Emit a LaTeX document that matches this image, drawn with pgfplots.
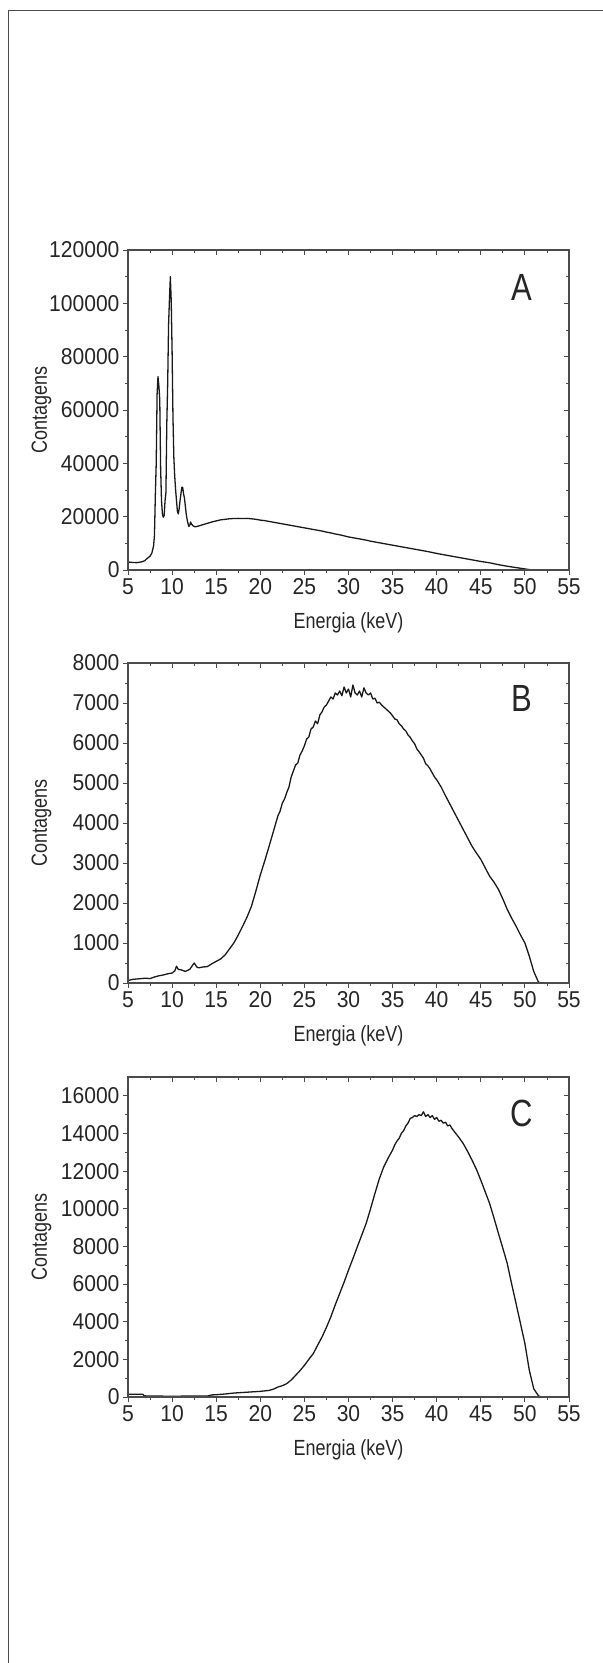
\documentclass[border=0pt]{standalone}
\usepackage{pgfplots}
\pgfplotsset{compat=1.18}
\usepackage{fontspec}
\setmainfont{Liberation Sans}[FakeStretch=0.82]
\newfontfamily\tickfont{Liberation Sans}[FakeStretch=0.92]
\definecolor{axisgray}{RGB}{75,75,75}
\definecolor{curve}{RGB}{25,25,25}

\pgfplotstableread{
E V
5.0 3000
5.3 2900
5.6 2800
6.0 2750
6.3 2900
6.6 3100
6.9 3500
7.2 4400
7.5 5200
7.7 6300
7.9 9000
8.0 13000
8.1 28000
8.2 40000
8.3 66000
8.4 72500
8.5 69000
8.6 64000
8.7 38000
8.8 26000
8.9 21000
9.0 19800
9.1 20500
9.2 26000
9.3 29000
9.4 55000
9.5 70000
9.6 92000
9.7 101500
9.8 110000
9.9 101000
10.0 82000
10.1 57000
10.2 42000
10.3 35000
10.4 30000
10.5 26000
10.6 22000
10.7 21000
10.8 23000
10.9 26000
11.0 28500
11.1 31000
11.2 31000
11.3 28500
11.4 27000
11.5 24000
11.6 21000
11.7 19000
11.8 17500
11.9 16300
12.0 16800
12.1 18000
12.2 17200
12.4 16500
12.6 16200
12.8 16300
13.0 16500
13.5 17000
14.0 17500
14.5 18000
15.0 18400
15.5 18800
16.0 19000
16.5 19200
17.0 19300
17.5 19350
18.0 19300
18.5 19350
19.0 19200
19.5 19000
20.0 18700
20.5 18500
21.0 18200
21.5 17900
22.0 17600
22.5 17300
23.0 17000
23.5 16700
24.0 16400
24.5 16100
25.0 15800
25.5 15500
26.0 15200
26.5 14900
27.0 14600
27.5 14200
28.0 13900
28.5 13500
29.0 13200
29.5 12800
30.0 12400
30.5 12100
31.0 11800
31.5 11500
32.0 11200
32.5 10800
33.0 10500
33.5 10200
34.0 9900
34.5 9600
35.0 9300
35.5 9000
36.0 8700
36.5 8400
37.0 8100
37.5 7800
38.0 7500
38.5 7200
39.0 6900
39.5 6550
40.0 6200
40.5 5900
41.0 5600
41.5 5300
42.0 5000
42.5 4700
43.0 4400
43.5 4100
44.0 3800
44.5 3500
45.0 3200
45.5 2950
46.0 2700
46.5 2350
47.0 2000
47.5 1700
48.0 1400
48.5 1150
49.0 900
49.5 650
50.0 400
50.4 200
50.8 0
}\dataA

\pgfplotstableread{
E V
5.0 60
5.5 90
6.0 100
6.5 110
7.0 120
7.5 110
8.0 150
8.5 180
9.0 200
9.5 230
10.0 250
10.3 300
10.5 420
10.7 340
11.0 330
11.5 290
12.0 340
12.5 500
12.8 400
13.0 380
13.5 400
14.0 410
14.5 480
15.0 540
15.5 600
16.0 700
16.5 850
17.0 1000
17.5 1200
18.0 1420
18.5 1650
19.0 1920
19.5 2300
20.0 2700
20.5 3050
21.0 3420
21.5 3800
22.0 4180
22.25 4300
22.5 4500
22.75 4600
23.0 4760
23.25 4900
23.5 5150
23.75 5300
24.0 5450
24.25 5500
24.5 5700
24.75 5800
25.0 5930
25.25 6100
25.5 6150
25.75 6350
26.0 6400
26.25 6550
26.5 6480
26.75 6700
27.0 6780
27.25 6900
27.5 6950
27.75 7050
28.0 7150
28.25 7100
28.5 7250
28.75 7200
29.0 7300
29.25 7180
29.5 7400
29.75 7250
30.0 7350
30.25 7150
30.5 7450
30.75 7250
31.0 7200
31.25 7300
31.5 7150
31.75 7380
32.0 7250
32.25 7200
32.5 7250
32.75 7100
33.0 7120
33.25 7000
33.5 7020
33.75 6950
34.0 6900
34.25 6850
34.5 6800
34.75 6750
35.0 6680
35.25 6600
35.5 6580
35.75 6480
36.0 6430
36.25 6350
36.5 6300
36.75 6200
37.0 6140
37.25 6050
37.5 5980
37.75 5850
38.0 5780
38.25 5700
38.5 5620
38.75 5480
39.0 5430
39.25 5350
39.5 5250
39.75 5150
40.0 5080
40.5 4900
41.0 4680
41.5 4470
42.0 4260
42.5 4050
43.0 3840
43.5 3630
44.0 3420
44.5 3250
45.0 3090
45.5 2880
46.0 2670
46.5 2520
47.0 2340
47.5 2100
48.0 1840
48.5 1620
49.0 1420
49.5 1200
50.0 1000
50.5 670
51.0 290
51.5 40
51.7 0
}\dataB

\pgfplotstableread{
E V
5.0 150
6.0 150
6.7 140
6.8 60
8.0 50
10.0 40
12.0 50
14.0 50
14.5 110
15.0 120
16.0 160
17.0 210
18.0 240
19.0 270
20.0 300
21.0 350
21.5 420
22.0 530
22.5 600
23.0 710
23.5 900
24.0 1150
24.5 1400
25.0 1680
25.5 2000
26.0 2300
26.5 2750
27.0 3190
27.5 3700
28.0 4260
28.5 4900
29.0 5500
29.5 6100
30.0 6740
30.5 7350
31.0 7980
31.5 8600
32.0 9220
32.5 10000
33.0 10820
33.5 11600
34.0 12230
34.5 12700
35.0 13120
35.25 13400
35.5 13600
35.75 13750
36.0 14010
36.25 14150
36.5 14400
36.75 14550
37.0 14800
37.25 14850
37.5 14950
37.75 14900
38.0 15000
38.25 14950
38.5 15150
38.75 14900
39.0 15000
39.25 14850
39.5 14950
39.75 14750
40.0 14850
40.25 14650
40.5 14700
40.75 14550
41.0 14600
41.25 14400
41.5 14450
41.75 14250
42.0 14100
42.5 13800
43.0 13470
43.5 13050
44.0 12590
44.5 12100
45.0 11520
45.5 10900
46.0 10280
46.5 9500
47.0 8690
47.5 7900
48.0 7090
48.5 6000
49.0 4960
49.5 3900
50.0 2840
50.5 1420
51.0 440
51.5 90
51.7 0
}\dataC

\tikzset{
  curvestyle/.style={curve, line width=1.3pt, line join=round},
  tag/.style={font=\fontsize{38}{40}\selectfont, text=black!85},
}
\pgfplotsset{
  panel/.style={
    scale only axis, width=441bp, height=320bp, anchor=south west,
    xmin=5, xmax=55, xtick={5,10,...,55}, minor x tick num=1, minor y tick num=1,
    axis line style={axisgray, line width=1.1pt},
    tick style={axisgray, line width=0.9pt},
    major tick length=5bp, minor tick length=3bp,
    scaled y ticks=false,
    tick label style={font=\tickfont\fontsize{23}{25}\selectfont, text=black!85},
    label style={font=\fontsize{22}{24}\selectfont, text=black!85},
  },
  lower/.style={panel, xtick pos=left, ytick pos=left, tick align=outside,
    xticklabels={5,10,15,20,25,30,35,40,45,50,55},
    xlabel={Energia (keV)}, ylabel={Contagens},
    xlabel style={at={(axis description cs:0.5,-0.165)}, anchor=center},
    ylabel style={at={(axis description cs:-0.196,0.5)}, anchor=center},
  },
  upper/.style={panel, xtick pos=right, ytick pos=right, tick align=inside,
    xticklabels={}, yticklabels={}},
}

\begin{document}
\begin{tikzpicture}
\useasboundingbox (0,0) rectangle (603bp,1663bp);
\draw[axisgray, line width=1.5pt] (8.5bp,0) -- (8.5bp,1652.5bp) -- (603bp,1652.5bp);

% A
\begin{axis}[lower, at={(128bp,1093bp)}, ymin=0, ymax=120000, ytick={0,20000,40000,60000,80000,100000,120000},
  yticklabels={0,20000,40000,60000,80000,100000,120000}]
\addplot[curvestyle] table[x=E,y=V] {\dataA};
\node[tag] at (axis description cs:0.893,0.884) {A};
\end{axis}
\begin{axis}[upper, at={(128bp,1093bp)}, ymin=0, ymax=120000, ytick={0,20000,40000,60000,80000,100000,120000}]
\end{axis}

% B
\begin{axis}[lower, at={(128bp,680bp)}, ymin=0, ymax=8000, ytick={0,1000,2000,3000,4000,5000,6000,7000,8000},
  yticklabels={0,1000,2000,3000,4000,5000,6000,7000,8000}]
\addplot[curvestyle] table[x=E,y=V] {\dataB};
\node[tag] at (axis description cs:0.893,0.889) {B};
\end{axis}
\begin{axis}[upper, at={(128bp,680bp)}, ymin=0, ymax=8000, ytick={0,1000,2000,3000,4000,5000,6000,7000,8000}]
\end{axis}

% C
\begin{axis}[lower, at={(128bp,266bp)}, ymin=0, ymax=17000, ytick={0,2000,4000,6000,8000,10000,12000,14000,16000},
  yticklabels={0,2000,4000,6000,8000,10000,12000,14000,16000}]
\addplot[curvestyle] table[x=E,y=V] {\dataC};
\node[tag] at (axis description cs:0.893,0.887) {C};
\end{axis}
\begin{axis}[upper, at={(128bp,266bp)}, ymin=0, ymax=17000, ytick={0,2000,4000,6000,8000,10000,12000,14000,16000}]
\end{axis}
\end{tikzpicture}
\end{document}
